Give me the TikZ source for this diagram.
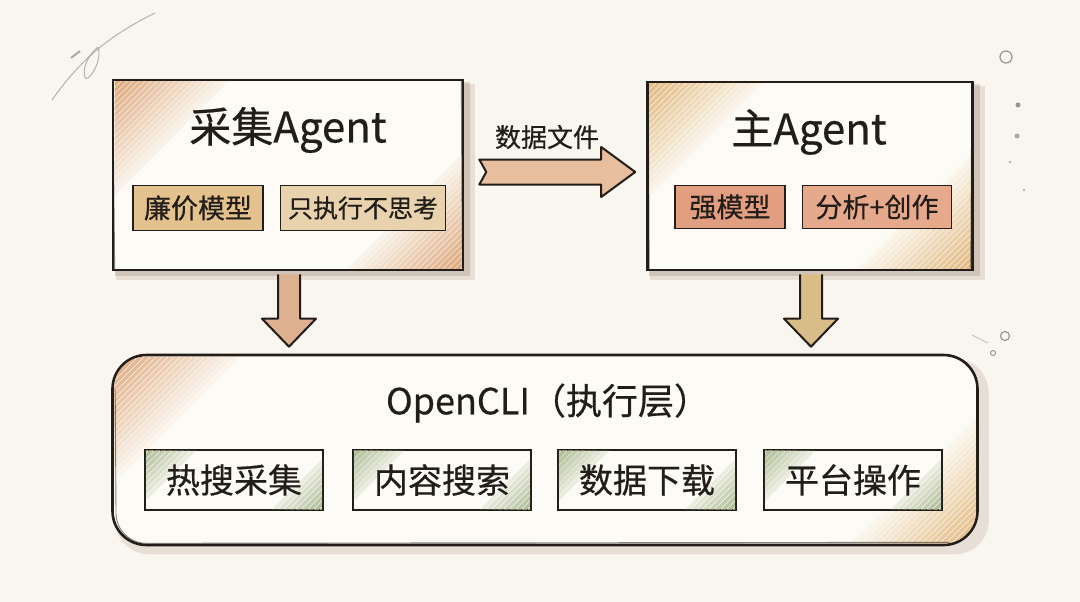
\documentclass[tikz,border=0pt]{standalone}
\usepackage{fontspec}
\setmainfont{Noto Sans CJK SC}[FakeBold=0.5]
\usetikzlibrary{calc}
\pgfdeclarelayer{bgl}
\pgfdeclarelayer{shad}
\pgfsetlayers{bgl,shad,main}
\definecolor{bg}{HTML}{F9F6EF}
\definecolor{ink}{HTML}{221D19}
\definecolor{paper}{HTML}{FDFBF6}
\definecolor{hatchO}{HTML}{D89A68}
\definecolor{hatchY}{HTML}{DDAE6C}
\definecolor{tanA}{HTML}{E3C28E}
\definecolor{tanB}{HTML}{E9D3AE}
\definecolor{salA}{HTML}{E29E80}
\definecolor{salB}{HTML}{E6A98C}
\definecolor{greenH}{HTML}{A3B389}
\definecolor{shadowB}{HTML}{8A6A55}
\definecolor{shadowS}{HTML}{CF9A80}
\definecolor{arrR}{HTML}{E8BF9E}
\definecolor{arrL}{HTML}{DDB190}
\definecolor{arrG}{HTML}{D9BD88}
\definecolor{doodle}{HTML}{9A9590}
\tikzset{
  box/.style={draw=ink, line width=2.6pt, fill=paper, inner sep=0pt},
  title/.style={text=ink, inner sep=0pt, font=\fontsize{42}{48}\selectfont},
  tagbox/.style={draw=ink, line width=1.8pt, inner sep=0pt, text=ink, font=\fontsize{27}{30}\selectfont, minimum height=45},
  ctag/.style={draw=ink, line width=1.8pt, inner sep=0pt, fill=paper, text=ink, font=\fontsize{34}{38}\selectfont, minimum width=178, minimum height=60},
  clititle/.style={text=ink, inner sep=0pt, font=\fontsize{36}{40}\selectfont},
  lbl/.style={text=ink, inner sep=0pt, font=\fontsize{26}{30}\selectfont},
  blockarrow/.style={draw=ink, line width=2pt, line join=round},
  hatchline/.style={line width=3.6pt, line cap=round},
  sketch/.style={draw=ink, line width=0.9pt, opacity=.55}
}
\newcommand\cornerhatch[5]{%
  \begin{scope}
    \clip ($(#1.south west)+(#4,-#4)$) rectangle ($(#1.north east)+(-#4,#4)$);
    \foreach \hh in {3,9,...,#3} {
      \pgfmathsetmacro\op{#5*(1-\hh/(#3+10))}
      \draw[hatchline, #2, opacity=\op] ($(#1.north west)+(0,\hh)$) -- ++(\hh,-\hh);
      \draw[hatchline, #2, opacity=\op] ($(#1.south east)+(0,-\hh)$) -- ++(-\hh,\hh);
    }
  \end{scope}}
\begin{document}
\begin{tikzpicture}[x=1pt,y=-1pt]
\begin{pgfonlayer}{bgl}
  \fill[bg] (0,0) rectangle (1080,602);
\end{pgfonlayer}
\useasboundingbox (0,0) rectangle (1080,602);

% doodles
\draw[doodle, line width=1pt, opacity=.7] (52,100) .. controls (80,60) and (110,35) .. (155,13);
\draw[doodle, line width=1pt, opacity=.7] (98,47) .. controls (80,62) and (83,82) .. (88,78) .. controls (97,70) and (101,55) .. (98,47);
\draw[doodle, line width=2pt, opacity=.8] (71,58) -- (80,51);
\draw[doodle, line width=1.2pt] (1006,57) circle (6);
\fill[doodle] (1018,105) circle (2.5);
\fill[doodle, opacity=.8] (1017,136) circle (2.5);
\fill[doodle, opacity=.7] (1010,162) circle (1.3);
\fill[doodle, opacity=.7] (1024,190) circle (1.3);
\draw[doodle, line width=1.2pt] (1005,336) circle (4.5);
\draw[doodle, line width=1pt] (993,353) circle (2.5);
\draw[doodle, line width=.8pt, opacity=.6] (972,335) -- (988,343);

% ---------- top-left box ----------
\node[box, minimum width=350, minimum height=190] (b1) at (288,175) {};
\cornerhatch{b1}{hatchO}{120}{2.8}{0.9}
\draw[sketch] ($(b1.south west)+(3,-2)$) -- ($(b1.north west)+(1,4)$);
\draw[sketch] ($(b1.south east)+(-2,-3)$) -- ($(b1.north east)+(-3,2)$);
\node[title] (t1) at (288,130) {采集Agent};
\node[tagbox, fill=tanA, minimum width=130] (g1) at (198,208) {廉价模型};
\node[tagbox, fill=tanB, minimum width=165, font=\fontsize{25}{30}\selectfont] (g2) at (363,208) {只执行不思考};

% ---------- top-right box ----------
\node[box, minimum width=325, minimum height=188] (b2) at (810,176) {};
\cornerhatch{b2}{hatchY}{120}{2.8}{0.9}
\draw[sketch] ($(b2.south west)+(3,-2)$) -- ($(b2.north west)+(2,4)$);
\draw[sketch] ($(b2.south east)+(-3,-3)$) -- ($(b2.north east)+(-2,2)$);
\node[title] (t2) at (809,132) {主Agent};
\node[tagbox, fill=salA, minimum width=110, minimum height=43] (g3) at (730,207) {强模型};
\node[tagbox, fill=salB, minimum width=149, minimum height=43] (g4) at (877,207) {分析+创作};

% ---------- bottom box ----------
\node[box, rounded corners=34, minimum width=865, minimum height=190] (cli) at (545,450) {};
\begin{scope}
  \clip[rounded corners=32] ($(cli.south west)+(2.8,-2.8)$) rectangle ($(cli.north east)+(-2.8,2.8)$);
  \foreach \hh in {3,9,...,130} {
    \pgfmathsetmacro\op{0.9*(1-\hh/140)}
    \draw[hatchline, hatchO, opacity=\op] ($(cli.north west)+(0,\hh)$) -- ++(\hh,-\hh);
    \draw[hatchline, hatchY, opacity=\op] ($(cli.south east)+(0,-\hh)$) -- ++(-\hh,\hh);
  }
\end{scope}
\draw[sketch, rounded corners=30] ($(cli.north west)+(4,36)$) -- ($(cli.south west)+(5,-3)$) -- ($(cli.south east)+(-30,-4)$);
\node[clititle] (ct) at (548,403) {OpenCLI（执行层）};
\foreach \nm/\xx/\tx in {c1/234/热搜采集, c2/442/内容搜索, c3/647/数据下载, c4/853/平台操作} {
  \node[ctag] (\nm) at (\xx,480) {\phantom{\tx}};
  \cornerhatch{\nm}{greenH}{55}{1.8}{0.95}
  \node[ctag, draw=none, fill=none] at (\nm) {\tx};
}

% ---------- shadows ----------
\begin{pgfonlayer}{shad}
  \foreach \nm in {b1,b2} {
    \fill[shadowB, opacity=.16] ($(\nm.south west)+(4,9)$) rectangle ($(\nm.north east)+(11,5)$);
    \fill[shadowB, opacity=.24] ($(\nm.south west)+(3,5)$) rectangle ($(\nm.north east)+(6,3)$);
  }
  \fill[shadowB, opacity=.16, rounded corners=34] ($(cli.south west)+(4,8)$) rectangle ($(cli.north east)+(10,5)$);
  \foreach \nm in {g1,g2,g3,g4} {
    \fill[shadowB, opacity=.28] ($(\nm.south west)+(3,5)$) rectangle ($(\nm.north east)+(6,4)$);
  }
  \foreach \nm in {c1,c2,c3,c4} {
    \fill[shadowS, opacity=.6] ($(\nm.south west)+(6,8)$) rectangle ($(\nm.north east)+(8,6)$);
  }
\end{pgfonlayer}

% ---------- arrows ----------
\coordinate (ra0) at ($(b1.east)+(15,-3)$);
\coordinate (ra1) at ($(b2.west)+(-11,-4)$);
\draw[blockarrow, fill=arrR]
  ($(ra0)+(0,-12.5)$) -- ($(ra1)+(-34,-12.5)$) -- ($(ra1)+(-34,-25)$) -- (ra1)
  -- ($(ra1)+(-34,25)$) -- ($(ra1)+(-34,12.5)$) -- ($(ra0)+(0,12.5)$) -- ($(ra0)+(7,0)$) -- cycle;
\node[lbl] (al) at (547,137) {数据文件};

\coordinate (la0) at ($(b1.south)+(1,3)$);
\coordinate (la1) at ($(la0 |- cli.north)+(0,-7)$);
\draw[blockarrow, fill=arrL]
  ($(la0)+(-11,0)$) -- ($(la1)+(-11,-28)$) -- ($(la1)+(-27,-28)$) -- (la1)
  -- ($(la1)+(27,-28)$) -- ($(la1)+(11,-28)$) -- ($(la0)+(11,0)$);

\coordinate (rb0) at ($(b2.south)+(1,3)$);
\coordinate (rb1) at ($(rb0 |- cli.north)+(0,-7)$);
\draw[blockarrow, fill=arrG]
  ($(rb0)+(-11,0)$) -- ($(rb1)+(-11,-28)$) -- ($(rb1)+(-27,-28)$) -- (rb1)
  -- ($(rb1)+(27,-28)$) -- ($(rb1)+(11,-28)$) -- ($(rb0)+(11,0)$);
\end{tikzpicture}
\end{document}
